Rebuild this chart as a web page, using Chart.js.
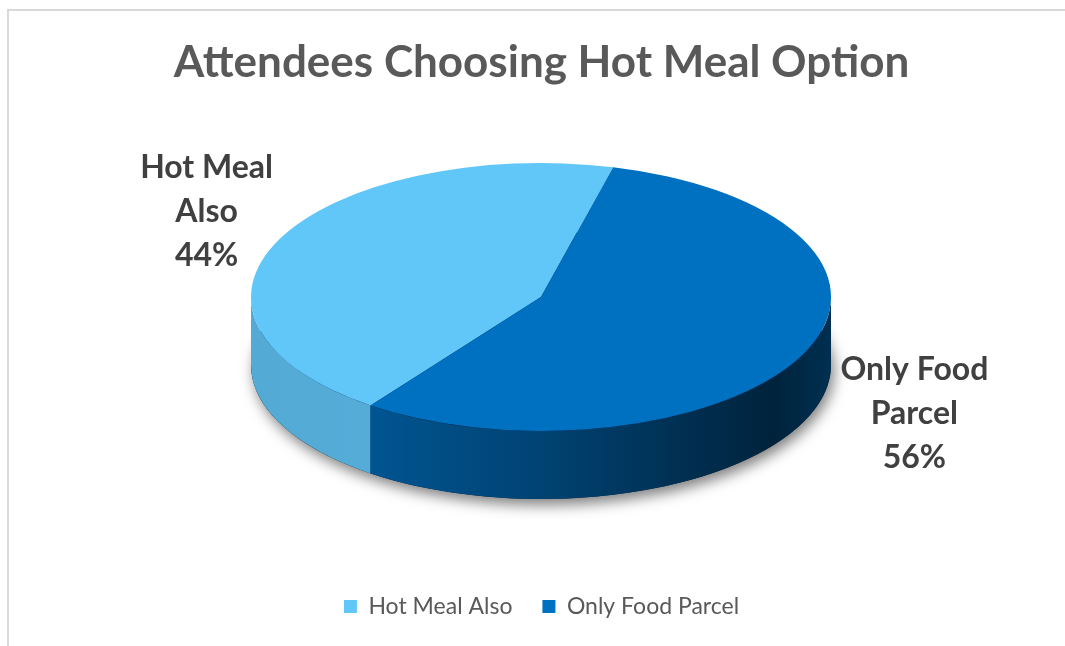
<!DOCTYPE html>
<html>
<head>
<meta charset="utf-8">
<script src="https://cdn.jsdelivr.net/npm/chart.js@4.4.1/dist/chart.umd.min.js"></script>
<style>
  body { margin: 0; background: #fff; overflow: hidden; }
  #frame { position: absolute; left: 7px; top: 9px; width: 1070px; height: 650px; border: 2px solid #d9d9d9; box-sizing: border-box; }
  #pieChart { position: absolute; left: 0; top: 0; }
</style>
</head>
<body>
<div id="frame"></div>
<canvas id="pieChart" width="1065" height="646"></canvas>
<script>
const categories = ['Hot Meal Also', 'Only Food Parcel'];
const shares = [44, 56];
const colours = ['#61C6F8', '#0070C0'];

// where the tilted pie sits on the page
const CX = 541, CY = 297, RX = 290, RY = 134, DEPTH = 68;
const LABEL_NUDGE = [[-72, -28], [111, 60]];

function shade(hex, f) {
    const n = parseInt(hex.slice(1), 16);
    const r = Math.round(((n >> 16) & 255) * f);
    const g = Math.round(((n >> 8) & 255) * f);
    const b = Math.round((n & 255) * f);
    return `rgb(${r},${g},${b})`;
}

// side shading along x (0 = left edge of pie, 1 = right edge)
const sideStops = [
    [[0, 0.86], [1, 0.9]],
    [[0, 0.8], [0.2, 0.76], [0.5, 0.6], [0.75, 0.42], [0.9, 0.31], [1, 0.42]]
];

const pie3d = {
    id: 'pie3d',
    beforeDatasetsDraw(chart) {
        const ctx = chart.ctx;
        const arcs = chart.getDatasetMeta(0).data;
        const a0 = arcs[0];

        // soft shadow under the cake
        ctx.save();
        ctx.shadowColor = 'rgba(0,0,0,0.5)';
        ctx.shadowBlur = 14;
        ctx.shadowOffsetX = 3;
        ctx.shadowOffsetY = 6;
        ctx.fillStyle = '#00223f';
        ctx.beginPath();
        ctx.ellipse(CX, CY + DEPTH, RX, RY, 0, 0, Math.PI * 2);
        ctx.fill();
        ctx.restore();

        // front walls
        arcs.forEach((arc, i) => {
            const grad = ctx.createLinearGradient(CX - RX, 0, CX + RX, 0);
            sideStops[i].forEach(s => grad.addColorStop(s[0], shade(colours[i], s[1])));
            for (let k = -2; k <= 2; k++) {
                const lo = Math.max(arc.startAngle, 2 * Math.PI * k);
                const hi = Math.min(arc.endAngle, 2 * Math.PI * k + Math.PI);
                if (hi <= lo) continue;
                ctx.beginPath();
                ctx.ellipse(CX, CY, RX, RY, 0, lo, hi);
                ctx.ellipse(CX, CY + DEPTH, RX, RY, 0, hi, lo, true);
                ctx.closePath();
                ctx.fillStyle = grad;
                ctx.fill();
            }
        });

        // top faces: the library's own arcs, squashed into the ellipse
        const k = RX / a0.outerRadius;
        ctx.save();
        ctx.translate(CX, CY);
        ctx.scale(k, k * RY / RX);
        ctx.translate(-a0.x, -a0.y);
        arcs.forEach(arc => arc.draw(ctx));
        ctx.restore();
        return false;
    },
    afterDraw(chart) {
        const ctx = chart.ctx;
        const arcs = chart.getDatasetMeta(0).data;
        const total = shares.reduce((a, b) => a + b, 0);
        ctx.save();
        ctx.font = 'bold 32px Lato';
        ctx.fillStyle = '#404040';
        ctx.textAlign = 'center';
        ctx.textBaseline = 'middle';
        arcs.forEach((arc, i) => {
            const mid = (arc.startAngle + arc.endAngle) / 2;
            const x = CX + RX * Math.cos(mid) + LABEL_NUDGE[i][0];
            const y = CY + RY * Math.sin(mid) + LABEL_NUDGE[i][1];
            const words = categories[i].split(' ');
            const lines = [words.slice(0, -1).join(' '), words[words.length - 1],
                Math.round(shares[i] / total * 100) + '%'];
            lines.forEach((t, j) => ctx.fillText(t, x, y + (j - 1) * 44));
        });
        ctx.restore();
    }
};

const ctx = document.getElementById('pieChart').getContext('2d');
new Chart(ctx, {
    type: 'pie',
    data: {
        labels: categories,
        datasets: [{
            data: shares,
            backgroundColor: colours,
            borderWidth: 0
        }]
    },
    options: {
        responsive: false,
        animation: false,
        rotation: -144,
        layout: { padding: { top: 0, bottom: 18, left: 18 } },
        plugins: {
            title: {
                display: true,
                text: 'Attendees Choosing Hot Meal Option',
                color: '#595959',
                font: { family: 'Lato', size: 44, weight: 'bold' },
                padding: { top: 36, bottom: 10 }
            },
            legend: {
                position: 'bottom',
                labels: {
                    color: '#595959',
                    font: { family: 'Lato', size: 23 },
                    boxWidth: 13,
                    boxHeight: 13,
                    padding: 30
                }
            },
            tooltip: { enabled: false }
        }
    },
    plugins: [pie3d]
});
</script>
</body>
</html>
